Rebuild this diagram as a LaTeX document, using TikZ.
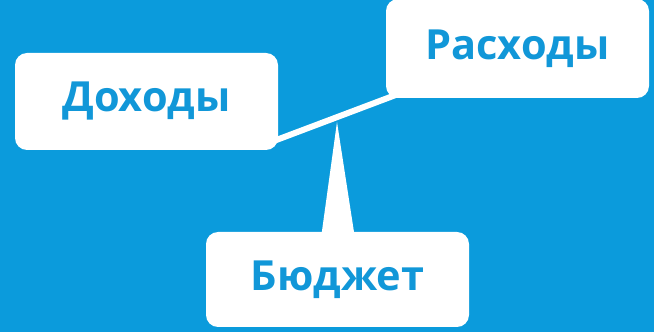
\documentclass[tikz,border=0pt]{standalone}
\usepackage{fontspec}
\setmainfont{Open Sans}
\definecolor{bg}{RGB}{11,155,220}
\definecolor{txt}{RGB}{17,151,216}
\begin{document}
\begin{tikzpicture}[x=1pt,y=1pt,
  box/.style={fill=white,rounded corners=12pt,minimum width=263pt,minimum height=97pt,inner sep=0pt,
    font=\fontsize{41.5}{46}\selectfont\bfseries,text=txt}]
\fill[bg] (0,0) rectangle (654,332);
\useasboundingbox (0,0) rectangle (654,332);
\node[box] (doh) at (146.5,230.5) {Доходы};
\node[box,minimum height=99pt] (ras) at (517.5,283.5) {Расходы};
\node[box,minimum height=95pt] (bud) at (337.5,52.5) {Бюджет};
\coordinate (lend) at ([xshift=-5pt,yshift=9pt]doh.south east);
\coordinate (rend) at ([xshift=12pt,yshift=4pt]ras.south west);
\draw[white,line width=6pt] (lend) -- (rend);
\coordinate (apex) at (337,210);
\fill[white] (apex) -- ([xshift=-17pt,yshift=-10pt]bud.north) -- ([xshift=18pt,yshift=-10pt]bud.north) -- cycle;
\end{tikzpicture}
\end{document}
